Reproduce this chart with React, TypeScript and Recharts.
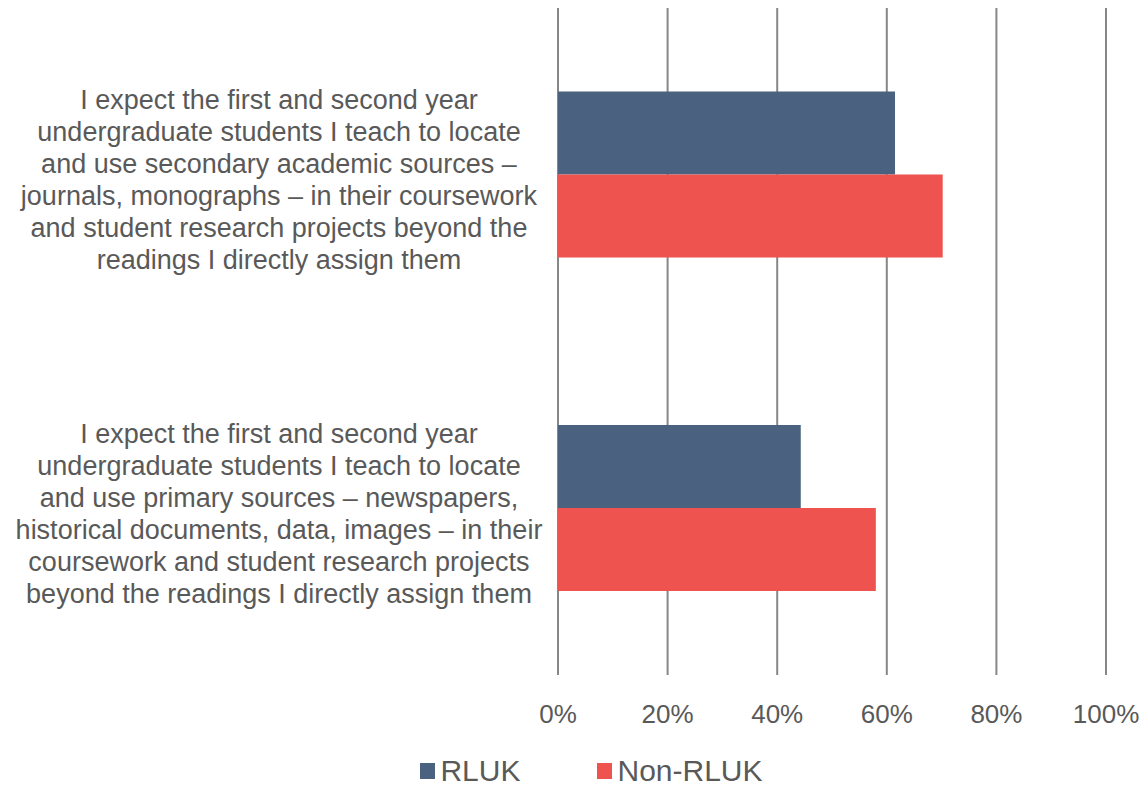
import { Bar, BarChart, CartesianGrid, Legend, XAxis, YAxis } from "recharts";

const CATEGORIES = [
  "I expect the first and second year\nundergraduate students I teach to locate\nand use secondary academic sources –\njournals, monographs – in their coursework\nand student research projects beyond the\nreadings I directly assign them",
  "I expect the first and second year\nundergraduate students I teach to locate\nand use primary sources – newspapers,\nhistorical documents, data, images – in their\ncoursework and student research projects\nbeyond the readings I directly assign them",
];
const RLUK = [0.615, 0.443];
const NON_RLUK = [0.702, 0.58];
const X_TICKS = [0, 0.2, 0.4, 0.6, 0.8, 1];

const SERIES = [
  { key: "rluk", name: "RLUK", color: "#4A627F" },
  { key: "nonRluk", name: "Non-RLUK", color: "#EF534F" },
];

const TEXT = "#595959";
const FONT = "'Liberation Sans', Arial, sans-serif";

const data = CATEGORIES.map((name, i) => ({ name, rluk: RLUK[i], nonRluk: NON_RLUK[i] }));

function CategoryTick({ y, payload }: any) {
  const lines = String(payload.value).split("\n");
  const lh = 32;
  const cx = 279;
  return (
    <text x={cx} y={y + 5 - ((lines.length - 1) * lh) / 2} textAnchor="middle" fill={TEXT} fontSize={27} fontFamily={FONT}>
      {lines.map((l, i) => (
        <tspan key={i} x={cx} dy={i === 0 ? "0.36em" : lh}>
          {l}
        </tspan>
      ))}
    </text>
  );
}

function LegendContent() {
  return (
    <div
      style={{
        display: "flex",
        justifyContent: "center",
        alignItems: "center",
        height: 30,
        paddingTop: 4,
        paddingLeft: 77,
        fontFamily: FONT,
        fontSize: 30,
        color: TEXT,
      }}
    >
      {SERIES.map((s, i) => (
        <div key={s.key} style={{ display: "flex", alignItems: "center", marginLeft: i ? 77 : 0 }}>
          <span style={{ width: 15, height: 16, background: s.color, marginRight: 5, display: "inline-block" }} />
          <span>{s.name}</span>
        </div>
      ))}
    </div>
  );
}

export default function App() {
  return (
    <div style={{ width: 1143, height: 786, background: "#fff" }}>
      <style>{"body{margin:0}"}</style>
      <BarChart
        width={1143}
        height={786}
        data={data}
        layout="vertical"
        margin={{ top: 8, right: 37, bottom: 0, left: 0 }}
        barCategoryGap="25%"
        barGap={0}
      >
        <CartesianGrid horizontal={false} stroke="#878787" strokeWidth={2} />
        <XAxis
          type="number"
          domain={[0, 1]}
          ticks={X_TICKS}
          tickFormatter={(v: number) => `${Math.round(v * 100)}%`}
          axisLine={false}
          tickLine={false}
          tickSize={0}
          tickMargin={30}
          height={77}
          tick={{ fill: TEXT, fontSize: 26, fontFamily: FONT }}
        />
        <YAxis type="category" dataKey="name" width={558} axisLine={false} tickLine={false} tick={<CategoryTick />} />
        <Legend verticalAlign="bottom" content={<LegendContent />} />
        {SERIES.map((s) => (
          <Bar key={s.key} dataKey={s.key} name={s.name} fill={s.color} isAnimationActive={false} />
        ))}
      </BarChart>
    </div>
  );
}
